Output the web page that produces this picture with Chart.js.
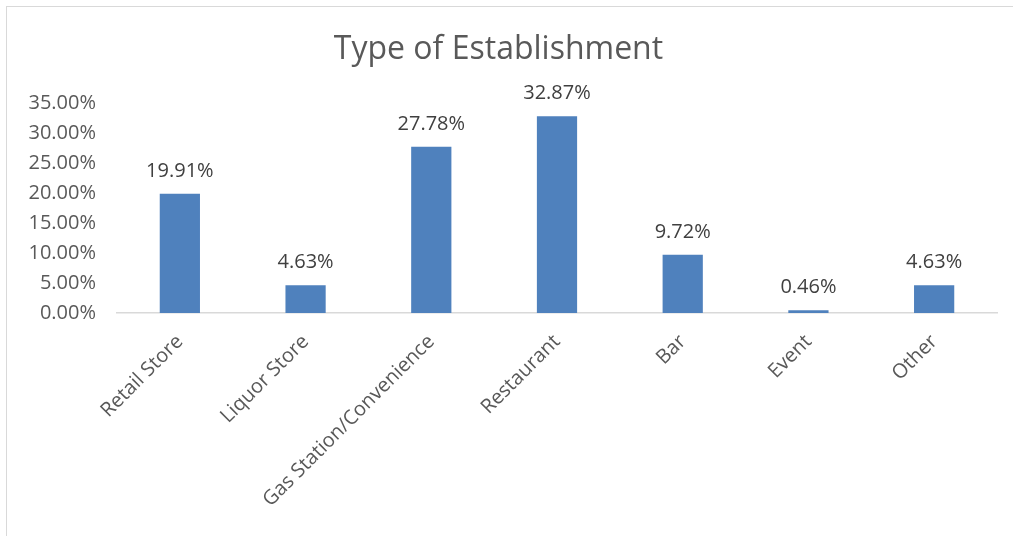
<!DOCTYPE html>
<html>
<head>
<meta charset="utf-8">
<script src="https://cdn.jsdelivr.net/npm/chart.js@4"></script>
<style>
    html, body { margin: 0; padding: 0; background: #fff; }
    #wrap { position: relative; width: 1013px; height: 536px; overflow: hidden; }
    #frame { position: absolute; left: 6px; top: 6px; width: 1100px; height: 600px;
             border-left: 1.5px solid #d9d9d9; border-top: 1.5px solid #d9d9d9; }
    canvas { position: absolute; left: 0; top: 0; }
</style>
</head>
<body>
<div id="wrap">
    <div id="frame"></div>
    <canvas id="establishmentChart" width="1013" height="536"></canvas>
</div>
<script>
// Chart data
const categories = ["Retail Store", "Liquor Store", "Gas Station/Convenience", "Restaurant", "Bar", "Event", "Other"];
const shares = [19.91, 4.63, 27.78, 32.87, 9.72, 0.46, 4.63];
const yTicks = [0, 5, 10, 15, 20, 25, 30, 35];

const FONT = "'Open Sans', sans-serif";

// Draws the value above each bar
const barLabels = {
    id: "barLabels",
    afterDatasetsDraw(chart) {
        const ctx = chart.ctx;
        const meta = chart.getDatasetMeta(0);
        ctx.save();
        ctx.font = `20px ${FONT}`;
        ctx.fillStyle = "#404040";
        ctx.textAlign = "center";
        ctx.textBaseline = "alphabetic";
        meta.data.forEach((bar, i) => {
            ctx.fillText(shares[i].toFixed(2) + "%", bar.x, bar.y - 17);
        });
        ctx.restore();
    }
};

document.addEventListener("DOMContentLoaded", () => {
    const ctx = document.getElementById("establishmentChart").getContext("2d");
    new Chart(ctx, {
        type: "bar",
        data: {
            labels: categories,
            datasets: [{
                label: "Type of Establishment",
                data: shares,
                backgroundColor: "#4f81bd",
                categoryPercentage: 1,
                barPercentage: 0.32
            }]
        },
        options: {
            responsive: false,
            animation: false,
            layout: { padding: { left: 0, right: 16, top: 0, bottom: 0 } },
            plugins: {
                legend: { display: false },
                tooltip: { enabled: false },
                title: {
                    display: true,
                    text: "Type of Establishment",
                    color: "#595959",
                    font: { family: FONT, size: 32, weight: "normal" },
                    padding: { top: 31, bottom: 34 }
                }
            },
            scales: {
                y: {
                    min: 0,
                    max: 35,
                    afterFit(scale) { scale.width = 117; },
                    afterBuildTicks(scale) { scale.ticks = yTicks.map(v => ({ value: v })); },
                    grid: { display: false, drawTicks: false },
                    border: { display: false },
                    ticks: {
                        color: "#595959",
                        padding: 21,
                        font: { family: FONT, size: 20 },
                        callback: v => v.toFixed(2) + "%"
                    }
                },
                x: {
                    afterFit(scale) { scale.height = 223; },
                    grid: { display: false, drawTicks: false },
                    border: { display: true, color: "#d9d9d9", width: 1.5 },
                    ticks: {
                        color: "#595959",
                        padding: 17,
                        maxRotation: 45,
                        minRotation: 45,
                        font: { family: FONT, size: 20 }
                    }
                }
            }
        },
        plugins: [barLabels]
    });
});
</script>
</body>
</html>
